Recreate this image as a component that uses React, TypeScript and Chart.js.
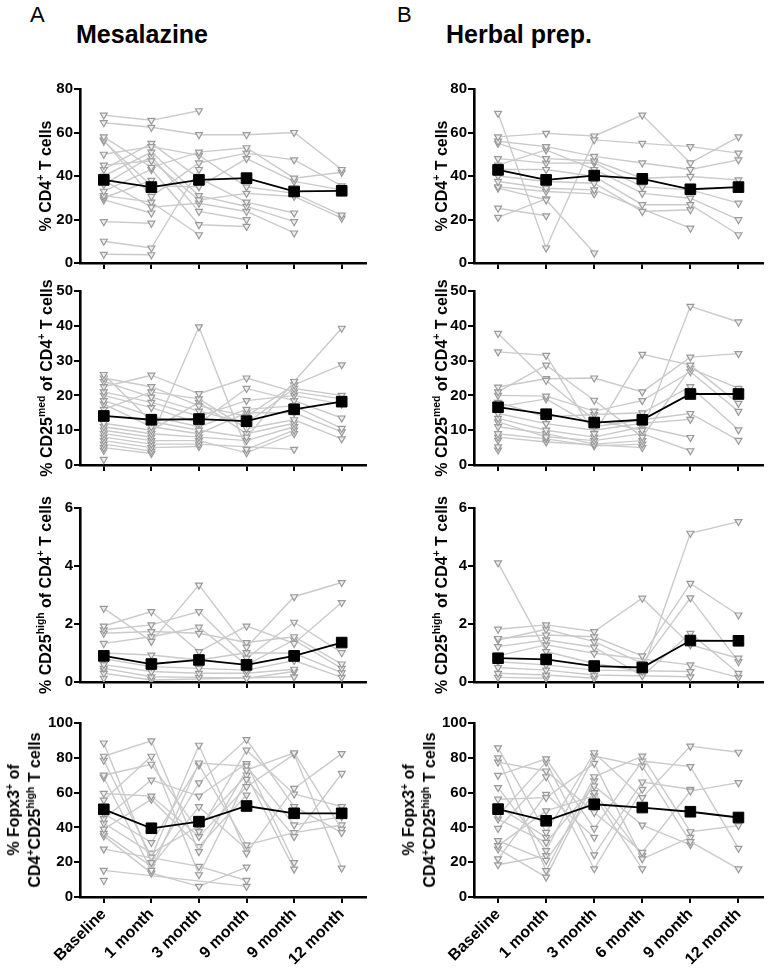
import React, { useEffect, useRef } from 'react';
import { Chart, registerables } from 'chart.js';

Chart.register(...registerables);

const FONT = "'Liberation Sans', Arial, Helvetica, sans-serif";

// ---------- categories ----------
const labelsA = ['Baseline', '1 month', '3 month', '9 month', '9 month', '12 month'];
const labelsB = ['Baseline', '1 month', '3 month', '6 month', '9 month', '12 month'];

// ---------- y ticks ----------
const ticksCD4 = { max: 80, step: 20 };
const ticksMed = { max: 50, step: 10 };
const ticksHigh = { max: 6, step: 2 };
const ticksFox = { max: 100, step: 20 };

// ---------- Mesalazine: % CD4+ T cells ----------
const mesaCD4Mean = [38.2, 34.9, 38.2, 39, 32.9, 33.2];
const mesaCD4 = [
  [68, 65.6, 70, null, null, null],
  [64.5, 62.4, 59, 59, 60, 43],
  [58, 44, 51, 53, 39, 41.7],
  [56.5, 30.6, 46, 50.5, 47.4, 35.5],
  [56, 35.5, 35, 48, 37.5, 33.6],
  [50, 53.5, 49.5, 35, 32, 22],
  [45, 47, 29, 32, 30.6, 20.6],
  [43, 55, 39, 28, 23, null],
  [40, 51, 31, 26, 19, null],
  [38, 25.7, 27.5, 23.7, 13.8, null],
  [36, 49, 23.7, 19.9, null, null],
  [33, 43, 17.6, 16.8, null, null],
  [31, 28, 13, null, null, null],
  [30, 38, null, null, null, null],
  [29, 23, null, null, null, null],
  [19, 18.3, null, null, null, null],
  [10, 6.9, 43, null, null, null],
  [4, 3.8, null, null, null, null],
];

// ---------- Herbal: % CD4+ T cells ----------
const herbCD4Mean = [42.8, 38.2, 40.2, 38.7, 33.9, 34.9];
const herbCD4 = [
  [68.8, 6.9, 56.6, 55, 53.5, 50.5],
  [58, 59.6, 58.4, 68, 46, 58],
  [56, 53.5, 49, 46, 43, 47.4],
  [55, 48, 47, 39, 39.8, 38.2],
  [48, 45.9, 46, 35, 33.6, 27.5],
  [45, 52, 43, 32, 29.8, 19.9],
  [43, 43, 39.8, 26.8, 26.8, 13],
  [40, 37.5, 36.7, 23.7, 24.5, null],
  [37.5, 34.4, 33.6, null, 16, null],
  [35, 32.9, 31.8, null, null, null],
  [34.4, 29, 4.6, null, null, null],
  [25.2, 21.7, null, null, null, null],
  [21, 29.5, null, null, null, null],
];

// ---------- Mesalazine: % CD25med of CD4+ ----------
const mesaMedMean = [14.1, 13, 13.2, 12.6, 16, 18.2];
const mesaMed = [
  [26, 12.5, 10, 8, 24, 39.3],
  [25, 22.5, 17, 14, 23, 28.8],
  [24, 19.5, 15.5, 12, 22, 20],
  [22.5, 25.8, 20.5, 25, 21, 19],
  [21, 18, 14, 18.5, 20, 17.5],
  [20, 16.5, 12, 22, 18.5, 13.5],
  [18.5, 14, 11, 16, 17, 10.5],
  [17.5, 11, 9, 15, 15, 9.5],
  [16, 21, 19, 10.5, 13, 7.5],
  [12, 10, 18, 9, 12, null],
  [11, 9, 8, 7, 11, null],
  [10, 8, 39.7, 4.5, 10, null],
  [9, 7, 7, 3.5, 9, null],
  [8, 6, 6, null, 4.5, null],
  [7, 5, 5.3, null, null, null],
  [6, 4, null, null, null, null],
  [5, 3.3, null, null, null, null],
  [4.2, null, null, null, null, null],
  [1.6, null, null, null, null, null],
];

// ---------- Herbal: % CD25med of CD4+ ----------
const herbMedMean = [16.6, 14.6, 12.2, 13.0, 20.4, 20.4];
const herbMed = [
  [37.8, 24.3, 13, 10, 45.6, 41.1],
  [32.5, 31.5, 9, 31.8, 28.7, 17.7],
  [22.4, 24.8, 25, 21, 31, 32],
  [21, 28.7, 18.6, 8, 27.8, 22],
  [20, 19.8, 15.5, 18.5, 26.8, 15.4],
  [18, 13.8, 14.5, 15, 22.5, 10.1],
  [16.7, 19, 11, 13, 14.8, 7.1],
  [14.8, 11.9, 10, 12, 13.1, null],
  [13.4, 10, 8, 11, 7.9, null],
  [12.4, 8.1, 7, 9, 4.1, null],
  [11, 9, 6, 7, null, null],
  [9, 7.5, 5.5, 6, null, null],
  [8, 6.6, null, 5, null, null],
  [7.1, null, null, null, null, null],
  [5.2, null, null, null, null, null],
  [4.3, null, null, null, null, null],
];

// ---------- Mesalazine: % CD25high of CD4+ ----------
const mesaHighMean = [0.9, 0.62, 0.76, 0.59, 0.9, 1.36];
const mesaHigh = [
  [2.54, 1.4, 3.34, 1.2, 2.94, 3.43],
  [1.93, 2.43, 1.05, 1.93, 1.33, 2.74],
  [1.8, 1.97, 2.43, 0.82, 2.06, 1.01],
  [1.68, 1.74, 1.68, 1.36, 1.56, 0.62],
  [1.33, 1.56, 1.89, 0.59, 1.45, 0.47],
  [1.0, 0.93, 0.76, 1.01, 0.99, 0.32],
  [0.8, 0.53, 0.47, 0.41, 0.74, 0.16],
  [0.6, 0.36, 0.3, 0.3, 0.44, null],
  [0.47, 0.18, 0.16, 0.13, 0.36, null],
  [0.3, 0.07, null, null, 0.18, null],
  [0.13, null, null, null, null, null],
  [0.4, null, null, null, null, null],
];

// ---------- Herbal: % CD25high of CD4+ ----------
const herbHighMean = [0.82, 0.78, 0.55, 0.5, 1.43, 1.42];
const herbHigh = [
  [4.11, 1.05, 0.64, 0.36, 5.13, 5.53],
  [1.82, 1.97, 1.74, 2.89, 1.28, 0.82],
  [1.5, 1.62, 1.56, 0.9, 3.4, 2.31],
  [1.45, 1.82, 1.39, 0.64, 2.9, 0.7],
  [1.22, 1.45, 1.2, 0.21, 1.68, 0.3],
  [0.9, 1.28, 0.99, null, 0.59, 0.16],
  [0.7, 0.59, 0.41, null, 0.36, null],
  [0.5, 0.41, 0.24, null, 0.18, null],
  [0.3, 0.24, 0.13, null, null, null],
  [0.16, 0.13, null, null, null, null],
];

// ---------- Mesalazine: % Fopx3+ of CD4+CD25high ----------
const mesaFoxMean = [50.4, 39.5, 43.3, 52.3, 48.1, 48.1];
const mesaFox = [
  [88.5, 19.8, 65.6, 90.5, 51.9, 37],
  [80.9, 89.7, 26.1, 72.9, 82.8, 39],
  [78.6, 22.9, 87.2, 25.2, 62.4, 82.4],
  [70, 76.3, 37.6, 84.4, 59.2, 51.9],
  [68.7, 15.3, 77, 75.2, 41.4, 46.2],
  [59.5, 58, 34.7, 63.4, 82, 16.6],
  [55.7, 80.9, 12.8, 67.6, 34.7, 71],
  [48, 31.3, 75.8, 29.9, 37, 41.4],
  [45, 67.2, 58, 76.7, 19.8, null],
  [42.4, 25.2, 40.8, 70, 16, null],
  [39, 56.1, 29, 58.6, null, null],
  [36.6, 17.6, 51.9, 27.5, null, null],
  [35.1, 13.7, 6.1, 17.2, null, null],
  [27.5, null, 17.6, 9.5, null, null],
  [15.3, null, null, 6.1, null, null],
  [9.5, null, null, null, null, null],
];

// ---------- Herbal: % Fopx3+ of CD4+CD25high ----------
const herbFoxMean = [50.5, 43.8, 53.3, 51.4, 49, 45.7];
const herbFox = [
  [85.7, 37.1, 82.9, 57.1, 86.7, 83.2],
  [80, 15.2, 69.1, 81, 37.5, 41],
  [77.5, 72.4, 48.6, 25.7, 60.9, 65.7],
  [69.9, 79.4, 39.4, 78.1, 74.9, 28],
  [62.9, 26.7, 81, 75.2, 31.8, 16.2],
  [56.2, 57.1, 76.8, 21.9, 34.3, null],
  [46.7, 77.5, 24.2, 66.1, 61.9, null],
  [44.8, 31.4, 63.8, 41.3, 30, null],
  [39.4, 69.1, 16.2, 61.9, null, null],
  [32.4, 21, 60, 23.8, null, null],
  [29.5, 49.5, 58.1, 16.2, null, null],
  [27.6, 11.4, 66.7, null, null, null],
  [21.9, 59, 34.3, null, null, null],
  [18.5, 23.8, null, null, null, null],
  [52, 34.3, null, null, null, null],
];

// ---------- layout ----------
const Y_W = 40;
const PAD_TOP = 12;
const colA = { axisX: 80, right: 370, padR: 4 };
const colB = { axisX: 474, right: 768, padR: 3 };
const rows = [
  { top: 89, zero: 263 },
  { top: 291, zero: 465 },
  { top: 508, zero: 682 },
  { top: 723, zero: 897 },
];

type PanelProps = {
  col: { axisX: number; right: number; padR: number };
  row: { top: number; zero: number };
  labels: string[];
  patients: (number | null)[][];
  mean: number[];
  yMax: number;
  yStep: number;
  showX: boolean;
};

function Panel(p: PanelProps) {
  const ref = useRef<HTMLCanvasElement>(null);
  const xH = p.showX ? 70 : 10;
  const left = p.col.axisX - Y_W;
  const width = p.col.right - left + p.col.padR;
  const top = p.row.top - PAD_TOP;
  const height = PAD_TOP + (p.row.zero - p.row.top) + xH;

  useEffect(() => {
    const canvas = ref.current!;
    const datasets: any[] = [
      {
        data: p.mean,
        borderColor: '#000',
        borderWidth: 1.8,
        pointStyle: 'rect',
        pointRadius: 7.5,
        pointBackgroundColor: '#000',
        pointBorderColor: '#000',
        pointBorderWidth: 1,
      },
    ];
    p.patients.forEach((s) =>
      datasets.push({
        data: s,
        borderColor: '#cacaca',
        borderWidth: 1.4,
        pointStyle: 'triangle',
        rotation: 180,
        pointRadius: 4,
        pointBorderColor: '#9a9a9a',
        pointBackgroundColor: '#eeeeee',
        pointBorderWidth: 1.2,
        spanGaps: true,
      })
    );
    const tickFont = { family: FONT, size: 15, weight: 'bold' as const };
    const xFont = { family: FONT, size: 16, weight: 'bold' as const };
    const chart = new Chart(canvas, {
      type: 'line',
      data: { labels: p.labels, datasets },
      options: {
        responsive: false,
        animation: false,
        devicePixelRatio: 1,
        layout: { padding: { top: PAD_TOP, right: p.col.padR, bottom: 0, left: 0 } },
        plugins: { legend: { display: false }, tooltip: { enabled: false } },
        scales: {
          x: {
            type: 'category',
            offset: true,
            grid: {
              display: true,
              offset: false,
              drawOnChartArea: false,
              drawTicks: true,
              tickLength: 6,
              color: '#000',
              lineWidth: 2,
            },
            border: { display: true, color: '#000', width: 2.6 },
            ticks: {
              display: p.showX,
              autoSkip: false,
              minRotation: 45,
              maxRotation: 45,
              font: xFont,
              color: '#000',
              padding: 2,
            },
            afterFit: (s: any) => {
              s.height = xH;
            },
          },
          y: {
            type: 'linear',
            min: 0,
            max: p.yMax,
            grid: {
              display: true,
              drawOnChartArea: false,
              drawTicks: true,
              tickLength: 6,
              color: '#000',
              lineWidth: 2,
            },
            border: { display: true, color: '#000', width: 2.6 },
            ticks: { stepSize: p.yStep, font: tickFont, color: '#000', padding: 1 },
            afterFit: (s: any) => {
              s.width = Y_W;
            },
          },
        },
      },
    } as any);
    return () => chart.destroy();
  }, []);

  return (
    <canvas
      ref={ref}
      width={width}
      height={height}
      style={{ position: 'absolute', left, top, width, height }}
    />
  );
}

const supStyle: React.CSSProperties = { fontSize: '0.65em', verticalAlign: 'super', lineHeight: 0 };

function YTitle({ cx, cy, children }: { cx: number; cy: number; children: React.ReactNode }) {
  return (
    <div
      style={{
        position: 'absolute',
        left: cx,
        top: cy,
        transform: 'translate(-50%, -50%) rotate(-90deg)',
        whiteSpace: 'nowrap',
        fontFamily: FONT,
        fontWeight: 'bold',
        fontSize: 16,
        lineHeight: '21px',
        textAlign: 'center',
        color: '#000',
      }}
    >
      {children}
    </div>
  );
}

function TitleCD4() {
  return (
    <span>
      % CD4<sup style={supStyle}>+</sup> T cells
    </span>
  );
}
function TitleMed() {
  return (
    <span>
      % CD25<sup style={supStyle}>med</sup> of CD4<sup style={supStyle}>+</sup> T cells
    </span>
  );
}
function TitleHigh() {
  return (
    <span>
      % CD25<sup style={supStyle}>high</sup> of CD4<sup style={supStyle}>+</sup> T cells
    </span>
  );
}
function TitleFox() {
  return (
    <>
      <div>
        % Fopx3<sup style={supStyle}>+</sup> of
      </div>
      <div>
        CD4<sup style={supStyle}>+</sup>CD25<sup style={supStyle}>high</sup> T cells
      </div>
    </>
  );
}

export default function App() {
  const mid = (r: { top: number; zero: number }) => (r.top + r.zero) / 2;
  return (
    <div
      style={{
        position: 'absolute',
        left: 0,
        top: 0,
        width: 772,
        height: 969,
        overflow: 'hidden',
        background: '#fff',
      }}
    >
      <div style={{ position: 'absolute', left: 30, top: 4, fontFamily: FONT, fontSize: 22, lineHeight: 1 }}>A</div>
      <div style={{ position: 'absolute', left: 397, top: 4, fontFamily: FONT, fontSize: 22, lineHeight: 1 }}>B</div>
      <div style={{ position: 'absolute', left: 76, top: 22, fontFamily: FONT, fontWeight: 'bold', fontSize: 25, lineHeight: 1 }}>
        Mesalazine
      </div>
      <div style={{ position: 'absolute', left: 446, top: 22, fontFamily: FONT, fontWeight: 'bold', fontSize: 25, lineHeight: 1 }}>
        Herbal prep.
      </div>

      <Panel col={colA} row={rows[0]} labels={labelsA} patients={mesaCD4} mean={mesaCD4Mean} yMax={ticksCD4.max} yStep={ticksCD4.step} showX={false} />
      <Panel col={colB} row={rows[0]} labels={labelsB} patients={herbCD4} mean={herbCD4Mean} yMax={ticksCD4.max} yStep={ticksCD4.step} showX={false} />
      <Panel col={colA} row={rows[1]} labels={labelsA} patients={mesaMed} mean={mesaMedMean} yMax={ticksMed.max} yStep={ticksMed.step} showX={false} />
      <Panel col={colB} row={rows[1]} labels={labelsB} patients={herbMed} mean={herbMedMean} yMax={ticksMed.max} yStep={ticksMed.step} showX={false} />
      <Panel col={colA} row={rows[2]} labels={labelsA} patients={mesaHigh} mean={mesaHighMean} yMax={ticksHigh.max} yStep={ticksHigh.step} showX={false} />
      <Panel col={colB} row={rows[2]} labels={labelsB} patients={herbHigh} mean={herbHighMean} yMax={ticksHigh.max} yStep={ticksHigh.step} showX={false} />
      <Panel col={colA} row={rows[3]} labels={labelsA} patients={mesaFox} mean={mesaFoxMean} yMax={ticksFox.max} yStep={ticksFox.step} showX={true} />
      <Panel col={colB} row={rows[3]} labels={labelsB} patients={herbFox} mean={herbFoxMean} yMax={ticksFox.max} yStep={ticksFox.step} showX={true} />

      <YTitle cx={45} cy={mid(rows[0])}><TitleCD4 /></YTitle>
      <YTitle cx={441} cy={mid(rows[0])}><TitleCD4 /></YTitle>
      <YTitle cx={46} cy={mid(rows[1])}><TitleMed /></YTitle>
      <YTitle cx={441} cy={mid(rows[1])}><TitleMed /></YTitle>
      <YTitle cx={45} cy={mid(rows[2])}><TitleHigh /></YTitle>
      <YTitle cx={441} cy={mid(rows[2])}><TitleHigh /></YTitle>
      <YTitle cx={24} cy={mid(rows[3])}><TitleFox /></YTitle>
      <YTitle cx={419} cy={mid(rows[3])}><TitleFox /></YTitle>
    </div>
  );
}
